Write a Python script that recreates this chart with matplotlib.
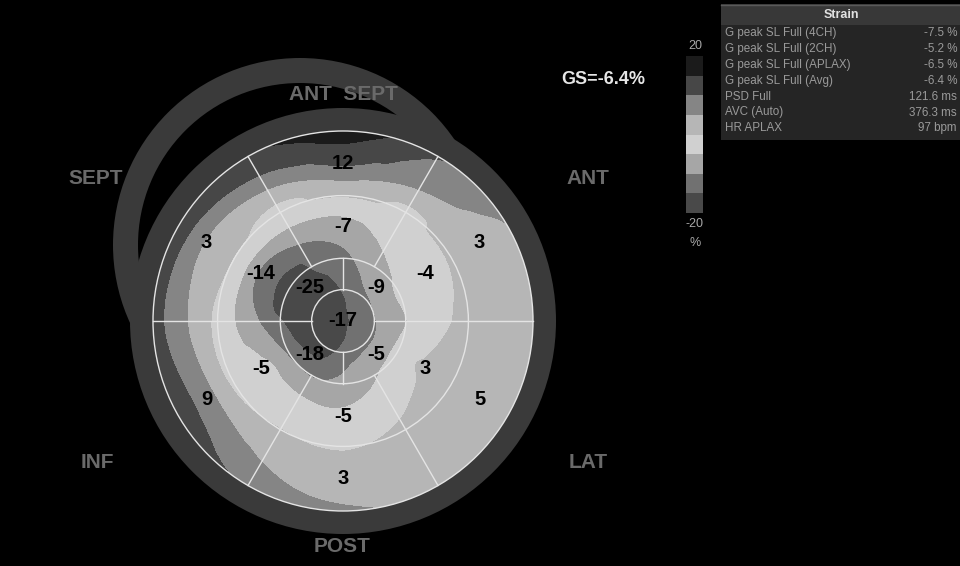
import matplotlib as mpl
import matplotlib.pyplot as plt
import matplotlib.tri as mtri
import numpy as np
from matplotlib.colors import ListedColormap, BoundaryNorm
from matplotlib.patches import Circle, Rectangle

plt.rcParams['font.family'] = ['Liberation Sans', 'DejaVu Sans']

# strain map: one row per ray (deg, 0 = right, ccw),
# values at normalised radius 0, 0.1 ... 1.0
ray_angles = [0, 30, 60, 90, 120, 150, 180, 210, 240, 270, 300, 330]
ray_radii = [0, .1, .2, .3, .4, .5, .6, .7, .8, .9, 1.0]
strain_rays = [
    [-16, -13, -9, -6, -3.7, -1.6, 0.4, 1.2, 2, 3, 3.8],
    [-16, -13, -9, -5.3, -3.2, -2, -0.7, 1.5, 3, 4, 4.9],
    [-16, -14, -10.5, -8, -5.5, -3.5, -1.7, 0, 5, 8, 10.5],
    [-16, -15.5, -14, -12, -9.7, -6.8, -3, 2.5, 9, 13.6, 18],
    [-16, -17, -17.5, -15.3, -13, -8.5, -3.5, -0.5, 5, 10.8, 14],
    [-16, -22, -24, -22, -15, -11, -3.8, 1.5, 3, 8.5, 13],
    [-16, -21, -19.8, -15.8, -11.8, -7.8, -3.8, 0.2, 4.2, 8.2, 12.2],
    [-16, -19, -17.5, -13, -6.5, -3.5, -1.8, 0.5, 6, 10, 13],
    [-16, -17, -16, -12, -7, -3.5, -1.3, 1, 3.5, 6, 9],
    [-16, -15.3, -12, -9.4, -6.5, -4, -2.4, 0.3, 1.8, 3.2, 6],
    [-16, -13.5, -10, -6.5, -4, -2.2, 0, 1.2, 2, 3, 3.5],
    [-16, -13, -9.5, -5, -0.7, 0.5, 1.5, 2.5, 3, 3.5, 4],
]

# segment values (17 segment model)
basal_angles = [90, 30, -30, -90, -150, 150]
basal_vals = [12, 3, 5, 3, 9, 3]
mid_vals = [-7, -4, 3, -5, -5, -14]
apical_angles = [135, 45, -45, -135]
apical_vals = [-25, -9, -5, -18]
apex_val = -17
gs_text = 'GS=-6.4%'

wall_names = ['ANT  SEPT', 'ANT', 'LAT', 'POST', 'INF', 'SEPT']

levels = [-20, -15, -10, -5, 0, 5, 10, 15, 20]
bin_colors = ['#494949', '#717171', '#a6a6a6', '#d0d0d0',
              '#b6b6b6', '#858585', '#474747', '#1b1b1b']

table_labels = ['G peak SL Full (4CH)', 'G peak SL Full (2CH)',
                'G peak SL Full (APLAX)', 'G peak SL Full (Avg)',
                'PSD Full', 'AVC (Auto)', 'HR APLAX']
table_values = ['-7.5 %', '-5.2 %', '-6.5 %', '-6.4 %',
                '121.6 ms', '376.3 ms', '97 bpm']

# layout (pixels)
cx, cy, R = 343, 321, 190
ring_r = [0.165, 0.33, 0.66, 1.0]

fig = plt.figure(figsize=(9.6, 5.66), dpi=100, facecolor='black')
ax = fig.add_axes([0, 0, 1, 1])
ax.set_xlim(0, 960)
ax.set_ylim(566, 0)
ax.axis('off')

ring_col = '#3a3a3a'
ax.add_patch(Circle((300, 245), 187, fc=ring_col, ec='none', zorder=1))
ax.add_patch(Circle((300, 245), 162, fc='black', ec='none', zorder=1))
ax.add_patch(Circle((cx, cy), 213, fc=ring_col, ec='none', zorder=2))

# strain field, smoothed in (angle, radius) space then mapped to the disc
ang = np.array(ray_angles + [360])
rad = np.array(ray_radii)
Z = np.array(strain_rays + [strain_rays[0]])
A, Rr = np.meshgrid(ang / 300.0, rad, indexing='ij')
tri = mtri.Triangulation(A.ravel(), Rr.ravel())
refiner = mtri.UniformTriRefiner(tri)
tri_f, z_f = refiner.refine_field(
    Z.ravel(), triinterpolator=mtri.CubicTriInterpolator(tri, Z.ravel(), kind='geom'),
    subdiv=4)
th = np.deg2rad(tri_f.x * 300.0)
xs = cx + R * tri_f.y * np.cos(th)
ys = cy - R * tri_f.y * np.sin(th)
tri_xy = mtri.Triangulation(xs, ys, tri_f.triangles)

cmap = ListedColormap(bin_colors)
cmap.set_under(bin_colors[0])
cmap.set_over(bin_colors[-1])
norm = BoundaryNorm(levels, cmap.N)
cs = ax.tricontourf(tri_xy, z_f, levels=levels, cmap=cmap, norm=norm,
                    extend='both', zorder=3, antialiased=False)
clip = Circle((cx, cy), R, transform=ax.transData)
cs.set_clip_path(clip)

# segment grid
lc = '#e4e4e4'
for rr in ring_r:
    ax.add_patch(Circle((cx, cy), R * rr, fc='none', ec=lc, lw=1, zorder=4))
for a in [0, 60, 120, 180, 240, 300]:
    r0 = ring_r[0] if a in (0, 180) else ring_r[1]
    t = np.deg2rad(a)
    ax.plot([cx + R * r0 * np.cos(t), cx + R * np.cos(t)],
            [cy - R * r0 * np.sin(t), cy - R * np.sin(t)], color=lc, lw=1, zorder=4)
for a in [90, 270]:
    t = np.deg2rad(a)
    ax.plot([cx, cx], [cy - R * ring_r[0] * np.sin(t), cy - R * ring_r[1] * np.sin(t)],
            color=lc, lw=1, zorder=4)

# segment values
num_kw = dict(ha='center', va='center', fontsize=14.5, fontweight='bold',
              color='black', zorder=5)
for a, v in zip(basal_angles, basal_vals):
    t = np.deg2rad(a)
    ax.text(cx + R * 0.83 * np.cos(t), cy - R * 0.83 * np.sin(t), str(v), **num_kw)
for a, v in zip(basal_angles, mid_vals):
    t = np.deg2rad(a)
    ax.text(cx + R * 0.5 * np.cos(t), cy - R * 0.5 * np.sin(t), str(v), **num_kw)
for a, v in zip(apical_angles, apical_vals):
    t = np.deg2rad(a)
    ax.text(cx + R * 0.25 * np.cos(t), cy - R * 0.25 * np.sin(t), str(v), **num_kw)
ax.text(cx, cy, str(apex_val), **num_kw)

# wall names
name_pos = [(343, 94), (588, 179), (588, 462), (342, 547), (97, 462), (96, 179)]
for (x, y), s in zip(name_pos, wall_names):
    ax.text(x, y, s, ha='center', va='center', fontsize=15, fontweight='bold',
            color='#6a6a6a', zorder=6)

ax.text(603, 80, gs_text, ha='center', va='center', fontsize=13,
        fontweight='bold', color='#e6e6e6')

# colour scale
cax = fig.add_axes([686 / 960, 1 - 213 / 566, 17 / 960, 157 / 566])
cb = fig.colorbar(mpl.cm.ScalarMappable(norm=norm, cmap=cmap), cax=cax,
                  ticks=[], extend='neither')
cb.outline.set_visible(False)
for y, s in [(46, '20'), (224, '-20'), (243, '%')]:
    ax.text(695, y, s, ha='center', va='center', fontsize=9, color='#a8a8a8')

# results table
ax.add_patch(Rectangle((721, 4), 239, 21, fc='#383838', ec='none'))
ax.plot([721, 960], [4.5, 4.5], color='#5a5a5a', lw=1)
ax.add_patch(Rectangle((721, 25), 239, 115, fc='#252525', ec='none'))
ax.text(841, 14.5, 'Strain', ha='center', va='center', fontsize=9,
        fontweight='bold', color='#e0e0e0')
for i, (lab, val) in enumerate(zip(table_labels, table_values)):
    y = 33 + i * 15.9
    ax.text(725, y, lab, ha='left', va='center', fontsize=8.4, color='#9a9a9a')
    ax.text(957, y, val, ha='right', va='center', fontsize=8.4, color='#9a9a9a')

fig.savefig('out.png', dpi=100, facecolor='black')
